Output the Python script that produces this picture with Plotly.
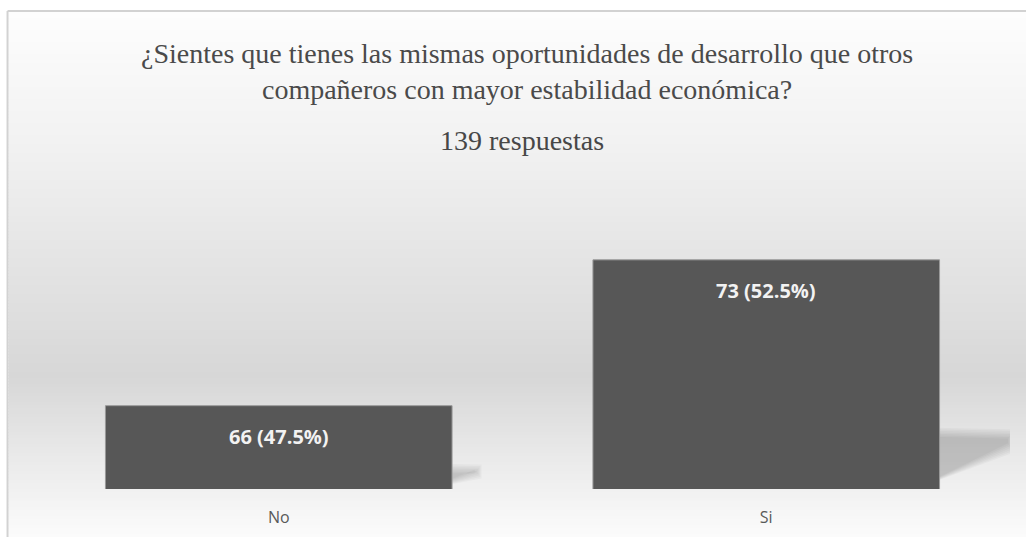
import plotly.graph_objects as go

# ---- data -------------------------------------------------------------
categories = ["No", "Si"]
counts = [66, 73]
total_responses = 139
question = ("¿Sientes que tienes las mismas oportunidades de desarrollo que otros<br>"
            "compañeros con mayor estabilidad económica?")
subtitle = f"{total_responses} respuestas"

# ---- layout geometry (pixels) ----------------------------------------
W, H = 1026, 537
M_L, M_R, M_T, M_B = 34.5, 15.5, 114, 48
PLOT_W = W - M_L - M_R
PLOT_H = H - M_T - M_B
Y_MIN, Y_MAX = 62, 80
BARGAP = 0.289
BAR_W = 1 - BARGAP


def px_x(px):
    return (px - M_L) / PLOT_W


def px_y(py):
    return (H - M_B - py) / PLOT_H


shapes = []

# ---- vertical grey gradient for the chart panel (thin horizontal bands)
panel_top, panel_bottom, band = 12, H + 2, 3
stops = [(12, 253), (140, 242), (377, 215), (450, 232), (540, 252)]


def panel_grey(py):
    for (y0, g0), (y1, g1) in zip(stops, stops[1:]):
        if y0 <= py <= y1:
            return int(round(g0 + (g1 - g0) * (py - y0) / (y1 - y0)))
    return stops[-1][1]


for py in range(panel_top, panel_bottom, band):
    g = panel_grey(py + band / 2)
    shapes.append(dict(
        type="rect", xref="paper", yref="paper", layer="below",
        x0=px_x(8), x1=px_x(W + 10),
        y0=px_y(py), y1=px_y(min(py + band + 1, panel_bottom)),
        fillcolor=f"rgb({g},{g},{g})", line=dict(width=0),
    ))

fig = go.Figure()

fig.add_trace(go.Bar(
    x=list(range(len(categories))),
    y=counts,
    marker=dict(color="#575757", line=dict(color="#9a9a9a", width=1)),
    hoverinfo="skip",
    showlegend=False,
))

# value labels inside the bars
annotations = []
for i, c in enumerate(counts):
    pct = c / total_responses * 100
    annotations.append(dict(
        x=i, y=c, xref="x", yref="y",
        text=f"{c} ({pct:.1f}%)",
        showarrow=False, yshift=-31, yanchor="middle",
        font=dict(family="Open Sans", size=20, color="#f2f2f2", weight="bold"),
    ))

# title lines
annotations.append(dict(
    x=px_x(527), y=px_y(72), xref="paper", yref="paper",
    xanchor="center", yanchor="middle",
    text=question, showarrow=False, align="center",
    font=dict(family="Liberation Serif", size=28, color="#4a4a4a"),
))
annotations.append(dict(
    x=px_x(522), y=px_y(141), xref="paper", yref="paper",
    xanchor="center", yanchor="middle",
    text=subtitle, showarrow=False,
    font=dict(family="Liberation Serif", size=28, color="#474747"),
))

# soft floor shadows cast behind each bar, built from a stack of faint layers
blur_steps = [-1.0, -0.67, -0.33, 0.0, 0.33, 0.67, 1.0]
BLUR_Y, BLUR_X = 0.22, 0.007
for i, c in enumerate(counts):
    h = c - Y_MIN
    right = i + BAR_W / 2
    for d in blur_steps:
        x_end = right + 0.0134 * h + d * BLUR_X
        top = Y_MIN + 0.25 * h + d * BLUR_Y
        low = Y_MIN + 0.18 * h - d * BLUR_Y
        path = (f"M {right - 0.05},{Y_MIN} L {right - 0.05},{top} "
                f"L {x_end},{top - 0.01 * h} L {x_end},{low} Z")
        shapes.append(dict(type="path", path=path, xref="x", yref="y",
                           fillcolor="#000000", opacity=0.027,
                           line=dict(width=0), layer="below"))

# panel border (top and left edges)
shapes.append(dict(type="line", xref="paper", yref="paper",
                   x0=px_x(7), x1=px_x(W + 4), y0=px_y(11), y1=px_y(11),
                   line=dict(color="#d2d2d2", width=2)))
shapes.append(dict(type="line", xref="paper", yref="paper",
                   x0=px_x(7), x1=px_x(7), y0=px_y(11), y1=px_y(H + 4),
                   line=dict(color="#d2d2d2", width=2)))

fig.update_layout(
    width=W, height=H,
    margin=dict(l=M_L, r=M_R, t=M_T, b=M_B, pad=0, autoexpand=False),
    paper_bgcolor="white",
    plot_bgcolor="rgba(0,0,0,0)",
    bargap=BARGAP,
    xaxis=dict(
        range=[-0.5, len(categories) - 0.5],
        tickmode="array", tickvals=list(range(len(categories))), ticktext=categories,
        showgrid=False, zeroline=False, showline=False, ticks="",
        tickfont=dict(family="Open Sans", size=16, color="#595959"),
        ticklabelstandoff=17, automargin=False,
    ),
    yaxis=dict(range=[Y_MIN, Y_MAX], visible=False, showgrid=False,
               zeroline=False, automargin=False),
    annotations=annotations,
    shapes=shapes,
)

fig.write_html("out.html", config={"displayModeBar": False})
